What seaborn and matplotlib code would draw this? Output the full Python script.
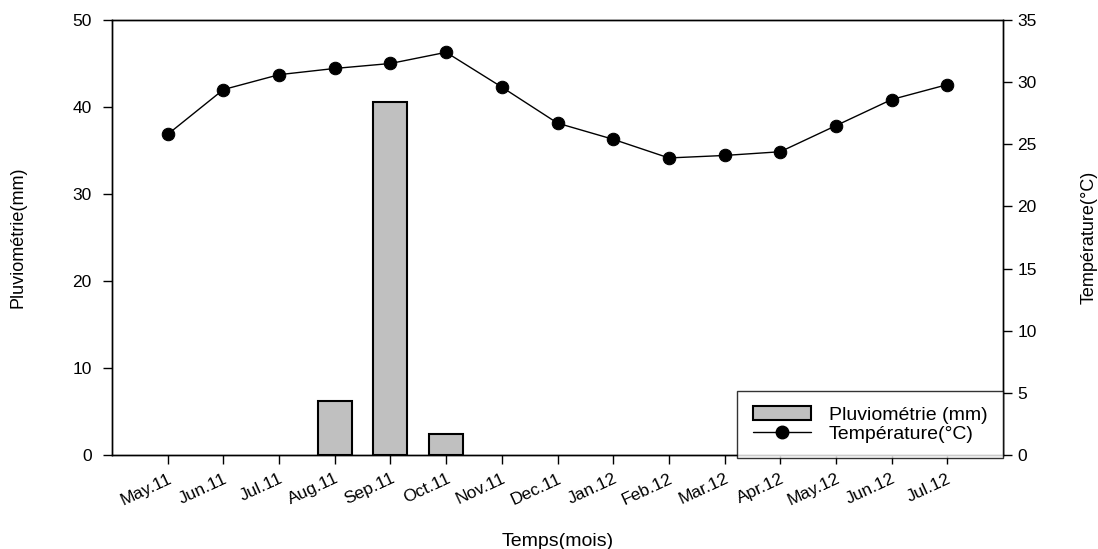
import numpy as np
import pandas as pd
import matplotlib
matplotlib.use('Agg')
import matplotlib.pyplot as plt
import seaborn as sns
from matplotlib.patches import Patch
from matplotlib.lines import Line2D

months = ['May.11', 'Jun.11', 'Jul.11', 'Aug.11', 'Sep.11', 'Oct.11', 'Nov.11', 'Dec.11',
          'Jan.12', 'Feb.12', 'Mar.12', 'Apr.12', 'May.12', 'Jun.12', 'Jul.12']
rain = [0, 0, 0, 6.2, 40.6, 2.4, 0, 0, 0, 0, 0, 0, 0, 0, 0]
temp = [25.8, 29.4, 30.6, 31.1, 31.5, 32.4, 29.6, 26.7, 25.4, 23.9, 24.1, 24.4, 26.5, 28.6, 29.8]

data = pd.DataFrame({'mois': months, 'pluie': rain, 'temp': temp, 'pos': np.arange(len(months))})

sns.set_style('ticks', {'text.color': 'black', 'axes.labelcolor': 'black',
                        'xtick.color': 'black', 'ytick.color': 'black'})
plt.rcParams['font.family'] = ['Liberation Sans', 'DejaVu Sans']

fig, ax = plt.subplots(figsize=(10.98, 5.49), dpi=100)
fig.subplots_adjust(left=0.102, right=0.9135, top=0.9636, bottom=0.1712)

# bars for rainfall (zero months left out so no edge line is drawn)
bars = data[data['pluie'] > 0]
sns.barplot(x='pos', y='pluie', data=bars, native_scale=True, color='#c0c0c0',
            edgecolor='black', linewidth=1.5, width=0.61, saturation=1, ax=ax)
ax.set_xlim(-1, 15)
ax.set_ylim(0, 50)
ax.set_xticks(data['pos'])
ax.set_xticklabels(months, rotation=25, ha='right', rotation_mode='anchor', fontsize=12.5)
ax.set_yticks(range(0, 51, 10))
ax.tick_params(axis='both', direction='out', length=6.5, width=1, labelsize=12.5)
ax.tick_params(axis='y', pad=8)
ax.tick_params(axis='x', pad=5)
ax.set_xlabel('Temps(mois)', fontsize=14, labelpad=18)
ax.set_ylabel('Pluviométrie(mm)', fontsize=13, labelpad=33)

# temperature on the right axis
ax2 = ax.twinx()
sns.lineplot(x='pos', y='temp', data=data, color='black', linewidth=1, marker='o',
             markersize=9, markeredgecolor='black', ax=ax2)
ax2.set_ylim(0, 35)
ax2.set_yticks(range(0, 36, 5))
ax2.tick_params(axis='y', direction='out', length=6.5, width=1, labelsize=12.5, pad=4)
ax2.set_ylabel('Température(°C)', fontsize=13, labelpad=31)

for a in (ax, ax2):
    for s in a.spines.values():
        s.set_visible(True)
        s.set_linewidth(1)
        s.set_color('black')

handles = [Patch(facecolor='#c0c0c0', edgecolor='black', linewidth=1.5),
           Line2D([], [], color='black', linewidth=1, marker='o', markersize=9)]
leg = ax2.legend(handles, ['Pluviométrie (mm)', 'Température(°C)'], loc='lower right',
                 bbox_to_anchor=(1.0, -0.007), frameon=True, fancybox=False, fontsize=14,
                 handlelength=3.0, handletextpad=0.9, borderpad=0.8, labelspacing=0.05,
                 borderaxespad=0)
leg.get_frame().set_edgecolor('black')
leg.get_frame().set_linewidth(1)

fig.savefig('out.png', dpi=100)
